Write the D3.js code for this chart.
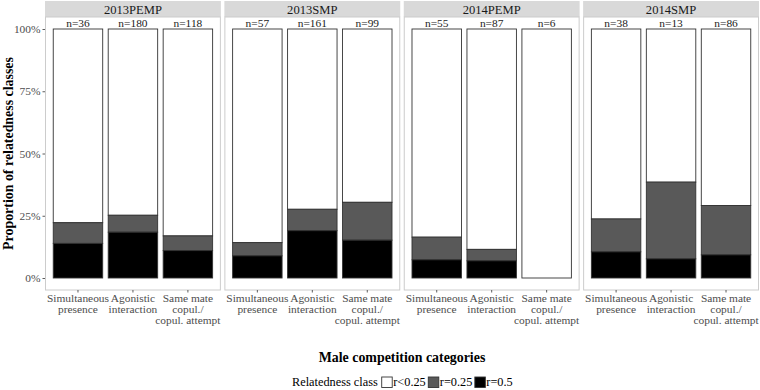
<!DOCTYPE html>
<html>
<head>
<meta charset="utf-8">
<script src="https://cdn.jsdelivr.net/npm/d3@7"></script>
<style>
  body { margin: 0; background: #fff; }
  svg { font-family: "Liberation Serif", "Times New Roman", serif; }
</style>
</head>
<body>
<div id="grafico"></div>
<script>
// dados (proporções em %)
const panels = ["2013PEMP", "2013SMP", "2014PEMP", "2014SMP"];
const categories = ["Simultaneous presence", "Agonistic interaction", "Same mate copul./ copul. attempt"];
const catLines = [["Simultaneous", "presence"], ["Agonistic", "interaction"], ["Same mate", "copul./", "copul. attempt"]];
const nLabels = [[36, 180, 118], [57, 161, 99], [55, 87, 6], [38, 13, 86]];
// r=0.5 (preto) e r=0.25 (cinza), o resto é r<0.25
const r05 = [[13.9, 18.4, 11.0], [8.9, 19.0, 15.2], [7.3, 6.9, 0], [10.5, 7.7, 9.3]];
const r025 = [[8.3, 6.8, 5.9], [5.3, 8.6, 15.2], [9.1, 4.6, 0], [13.2, 30.8, 19.8]];
const classes = ["r<0.25", "r=0.25", "r=0.5"];
const classColors = ["#ffffff", "#595959", "#000000"];
const yTicks = [0, 0.25, 0.5, 0.75, 1];

function graficar(id_area) {
    const W = 760, H = 390;
    const left = 45, right = 759, gap = 3.5;
    const stripTop = 1, stripH = 16;
    const panelTop = stripTop + stripH, panelBottom = 290;

    const svg = d3.select(`#${id_area}`).append("svg")
        .attr("width", W).attr("height", H);

    const pw = (right - left - gap * 3) / 4;

    // escala y comum (5% de expansão)
    const y = d3.scaleLinear().domain([0, 1]).range([278, 29]);

    panels.forEach((p, pi) => {
        const x0 = left + pi * (pw + gap);
        const g = svg.append("g").attr("transform", `translate(${x0},0)`);

        // faixa do título
        g.append("rect")
            .attr("x", 0).attr("y", stripTop)
            .attr("width", pw).attr("height", stripH)
            .attr("fill", "#d9d9d9");
        g.append("text")
            .attr("x", pw / 2).attr("y", stripTop + stripH / 2 + 4.6)
            .attr("text-anchor", "middle")
            .attr("font-size", "12.6px")
            .attr("fill", "#1a1a1a")
            .text(p);

        // fundo do painel
        g.append("rect")
            .attr("x", 0.5).attr("y", panelTop)
            .attr("width", pw - 1).attr("height", panelBottom - panelTop)
            .attr("fill", "#fff")
            .attr("stroke", "#cccccc").attr("stroke-width", 1);

        const x = d3.scaleBand().domain(categories).range([0, pw])
            .paddingInner(0.1).paddingOuter(0.15);

        const rows = categories.map((c, ci) => {
            const b = r05[pi][ci] / 100, gr = r025[pi][ci] / 100;
            return { cat: c, ci: ci, stack: [[0, b], [b, b + gr], [b + gr, 1]], n: nLabels[pi][ci] };
        });

        rows.forEach(d => {
            // desenha de cima para baixo: branco, cinza, preto
            [0, 1, 2].forEach(k => {
                const seg = d.stack[2 - k];
                if (seg[1] - seg[0] <= 0) return;
                g.append("rect")
                    .attr("x", x(d.cat)).attr("width", x.bandwidth())
                    .attr("y", y(seg[1])).attr("height", y(seg[0]) - y(seg[1]))
                    .attr("fill", classColors[k])
                    .attr("stroke", "#333333").attr("stroke-width", 0.9);
            });
            g.append("text")
                .attr("x", x(d.cat) + x.bandwidth() / 2).attr("y", 26.5)
                .attr("text-anchor", "middle")
                .attr("font-size", "11.4px")
                .attr("fill", "#1a1a1a")
                .text("n=" + d.n);
        });

        // eixo x
        const ax = g.append("g").attr("transform", `translate(0,${panelBottom})`)
            .call(d3.axisBottom(x).tickSize(2.5).tickFormat(""));
        ax.select(".domain").remove();
        ax.selectAll(".tick line").attr("stroke", "#333").attr("stroke-width", 0.8);

        categories.forEach((c, ci) => {
            const t = g.append("text")
                .attr("text-anchor", "middle")
                .attr("font-size", "11.4px")
                .attr("fill", "#4d4d4d");
            catLines[ci].forEach((ln, li) => {
                t.append("tspan")
                    .attr("x", x(c) + x.bandwidth() / 2)
                    .attr("y", 301.5 + li * 11.3)
                    .text(ln);
            });
        });

        // eixo y apenas no primeiro painel
        if (pi === 0) {
            const ay = g.append("g")
                .call(d3.axisLeft(y).tickValues(yTicks).tickSize(2.5).tickPadding(2)
                    .tickFormat(d3.format(".0%")));
            ay.select(".domain").remove();
            ay.selectAll(".tick line").attr("stroke", "#333").attr("stroke-width", 0.8);
            ay.selectAll(".tick text")
                .attr("font-family", "Liberation Serif, serif")
                .attr("font-size", "11.4px")
                .attr("fill", "#4d4d4d");
        }
    });

    // títulos dos eixos
    svg.append("text")
        .attr("transform", `translate(13,${(panelTop + panelBottom) / 2}) rotate(-90)`)
        .attr("text-anchor", "middle")
        .attr("font-size", "13.9px")
        .attr("font-weight", "bold")
        .text("Proportion of relatedness classes");

    svg.append("text")
        .attr("x", (left + right) / 2).attr("y", 361.5)
        .attr("text-anchor", "middle")
        .attr("font-size", "13.9px")
        .attr("font-weight", "bold")
        .text("Male competition categories");

    // legenda
    const leg = svg.append("g");
    let lx = 292;
    const ly = 382;
    const lt = leg.append("text").attr("x", lx).attr("y", ly + 4)
        .attr("font-size", "12.3px").text("Relatedness class");
    lx += lt.node().getComputedTextLength() + 4;
    classes.forEach((c, k) => {
        leg.append("rect")
            .attr("x", lx).attr("y", ly - 5)
            .attr("width", 10.5).attr("height", 10.5)
            .attr("fill", classColors[k])
            .attr("stroke", "#333").attr("stroke-width", 0.9);
        lx += 11.5;
        const t = leg.append("text").attr("x", lx).attr("y", ly + 4)
            .attr("font-size", "12.3px").text(c);
        lx += t.node().getComputedTextLength() + 2.5;
    });
}

graficar("grafico");
</script>
</body>
</html>
